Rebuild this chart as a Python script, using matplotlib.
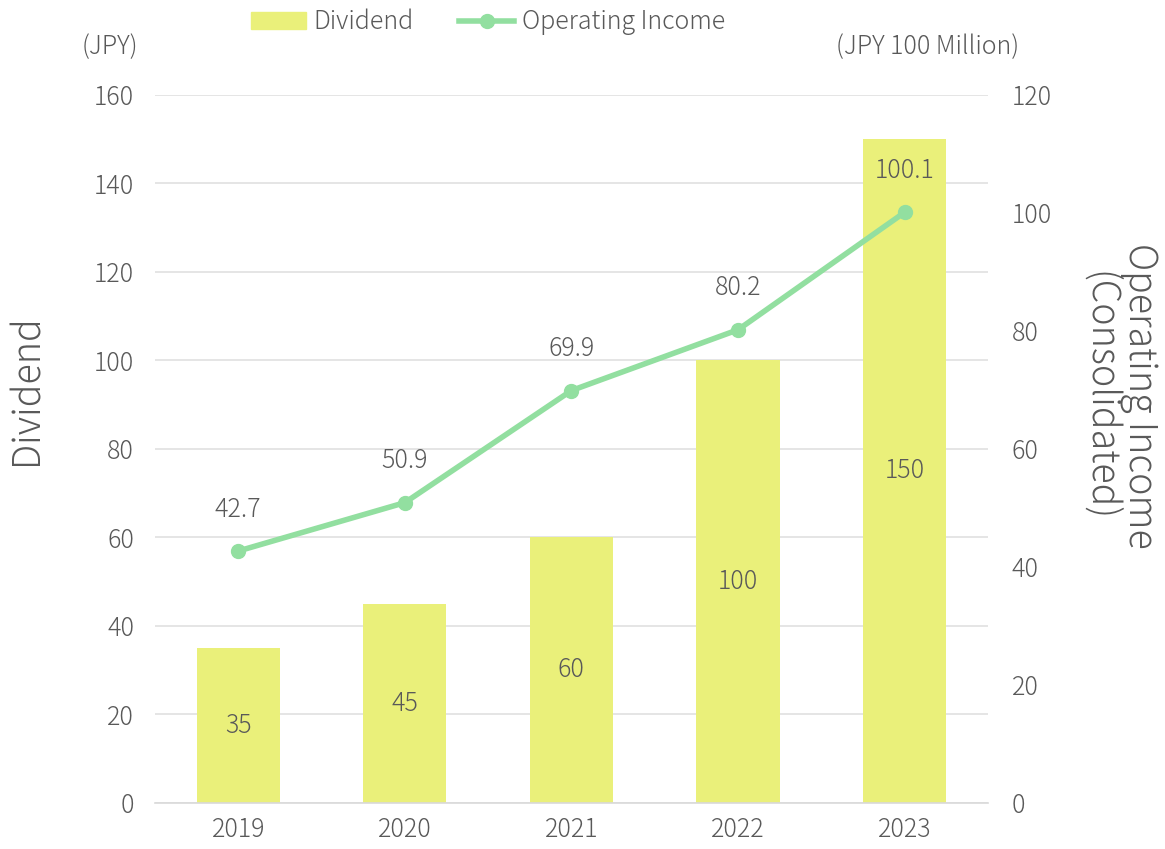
import matplotlib
matplotlib.use("Agg")
import matplotlib.pyplot as plt
from matplotlib.lines import Line2D
from matplotlib.patches import Patch

plt.rcParams['font.family'] = ['Noto Sans CJK JP', 'DejaVu Sans']
plt.rcParams['font.weight'] = 'light'

years = ["2019", "2020", "2021", "2022", "2023"]
dividend = [35, 45, 60, 100, 150]
op_income = [42.7, 50.9, 69.9, 80.2, 100.1]

TXT = "#595959"
BAR = "#EAF07A"
LINE = "#92DFA0"
GRID = "#E0E0E0"
FS = 18

fig = plt.figure(figsize=(11.65, 8.49), dpi=100)
ax = fig.add_axes([0.133, 0.0542, 0.715, 0.834])
ax2 = ax.twinx()

x = list(range(len(years)))
ax.bar(x, dividend, width=0.5, color=BAR, zorder=2)
for xi, v in zip(x, dividend):
    ax.text(xi, v / 2, f"{v}", ha="center", va="center", fontsize=FS, color=TXT, zorder=5)

ax2.plot(x, op_income, color=LINE, lw=4, marker="o", markersize=10, zorder=4,
         solid_capstyle="round")
for xi, v in zip(x, op_income):
    ax2.annotate(f"{v}", (xi, v), xytext=(0, 30), textcoords="offset points",
                 ha="center", va="center", fontsize=FS, color=TXT, zorder=5)

ax.set_xlim(-0.5, 4.5)
ax.set_ylim(0, 160)
ax2.set_ylim(0, 120)
ax.set_yticks(range(0, 161, 20))
ax2.set_yticks(range(0, 121, 20))
ax.set_xticks(x)
ax.set_xticklabels(years)

ax.grid(axis="y", color=GRID, lw=1.2, zorder=0)
ax.set_axisbelow(True)
for a in (ax, ax2):
    for s in a.spines.values():
        s.set_visible(False)
    a.tick_params(length=0, labelsize=FS, colors=TXT)
ax.tick_params(axis="y", pad=15)
ax2.tick_params(axis="y", pad=17)
ax.tick_params(axis="x", pad=10)
ax.spines["bottom"].set_visible(True)
ax.spines["bottom"].set_color("#D9D9D9")
ax.spines["bottom"].set_linewidth(1.2)

fig.text(27 / 1165, 1 - 390 / 849, "Dividend", rotation=90, ha="center", va="center",
         fontsize=27, color=TXT)
fig.text(1119 / 1165, 1 - 396 / 849, "Operating Income\n(Consolidated)", rotation=270,
         ha="center", va="center", fontsize=27, color=TXT, linespacing=1.0,
         multialignment="center")

fig.text(110 / 1165, 1 - 47 / 849, "(JPY)", ha="center", va="center", fontsize=FS, color=TXT)
fig.text(928 / 1165, 1 - 47 / 849, "(JPY 100 Million)", ha="center", va="center", fontsize=FS, color=TXT)

handles = [Patch(color=BAR, label="Dividend"),
           Line2D([0], [0], color=LINE, lw=4, marker="o", markersize=10, label="Operating Income")]
leg = fig.legend(handles=handles, loc="center", bbox_to_anchor=(488 / 1165, 1 - 22 / 849),
                 ncol=2, frameon=False, fontsize=FS, handlelength=2.2, columnspacing=1.8,
                 handletextpad=0.3)
for t in leg.get_texts():
    t.set_color(TXT)

fig.savefig("out.png", dpi=100)
